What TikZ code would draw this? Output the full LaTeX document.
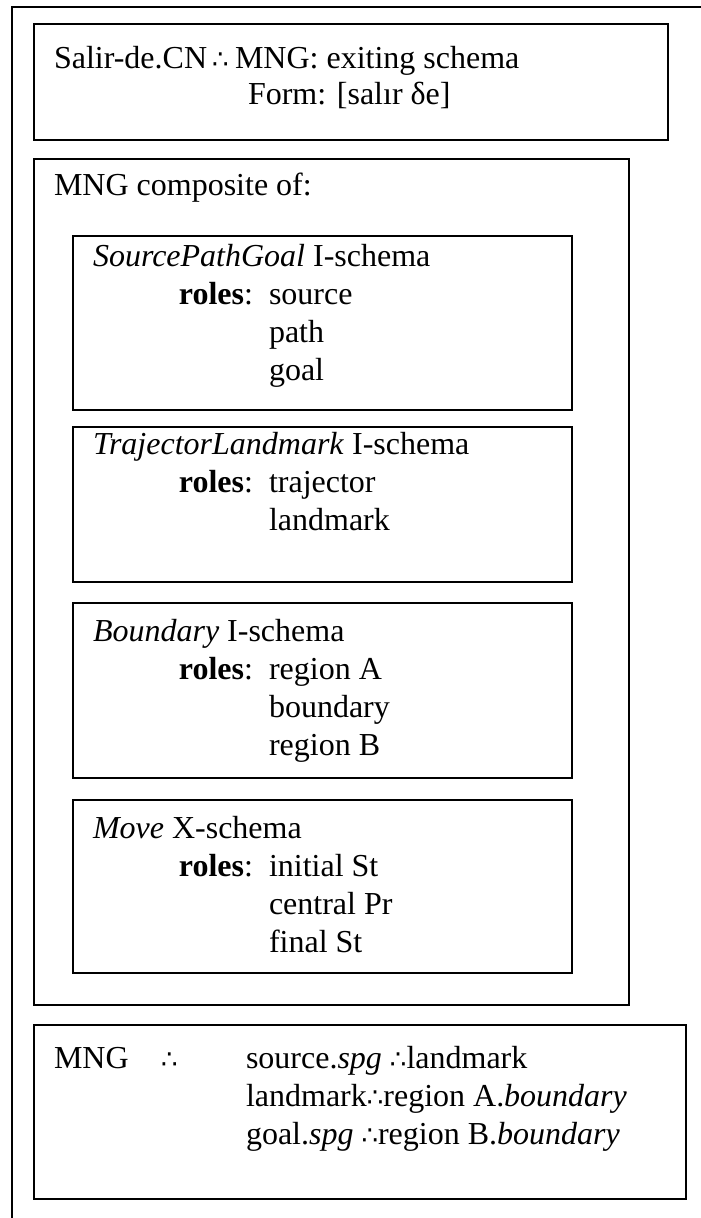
\documentclass[tikz,border=0pt]{standalone}
\usepackage{fontspec}
\setmainfont{Liberation Serif}
\newfontfamily\dotsfont{DejaVu Sans}
\newcommand{\tf}{{\dotsfont\fontsize{26}{38}\selectfont ∴}}
\begin{document}
\begin{tikzpicture}[x=1pt,y=-1pt,
  frame/.style={draw, line width=1.5pt, anchor=north west, inner sep=0pt, outer sep=0pt},
  txt/.style={anchor=base west, inner sep=0pt, outer sep=0pt,
    font=\fontsize{32}{38}\selectfont},
  rolelabel/.style={txt, anchor=base east}]
\useasboundingbox (0,0) rectangle (701,1218);

% open outer frame (top and left sides only)
\coordinate (ftr) at (705,7);
\coordinate (ftl) at (12,7);
\coordinate (fbl) at (12,1222);
\draw[line width=1.5pt] (ftr) -- (ftl) -- (fbl);

% construction header
\node[frame, minimum width=634pt, minimum height=116pt] (head) at (34,24) {};
\node[txt] (h1a) at (54,68) {Salir-de.CN};
\node[txt] (h1b) at (212,68) {\tf};
\node[txt] (h1c) at (235,68) {MNG: exiting schema};
\node[txt] (h2)  at (248,104) {Form: [salır δe]};

% meaning composite
\node[frame, minimum width=595pt, minimum height=846pt] (comp) at (34,159) {};
\node[txt] (comptitle) at (54,195) {MNG composite of:};

% SourcePathGoal
\node[frame, minimum width=499pt, minimum height=174pt] (spg) at (73,236) {};
\node[txt] (spg1) at (93,266) {\textit{SourcePathGoal} I-schema};
\node[rolelabel] (spg2) at (253,304) {\textbf{roles}:};
\node[txt] (spg3) at (269,304) {source};
\node[txt] (spg4) at (269,342) {path};
\node[txt] (spg5) at (269,380) {goal};

% TrajectorLandmark
\node[frame, minimum width=499pt, minimum height=155pt] (tl) at (73,427) {};
\node[txt] (tl1) at (93,454) {\textit{TrajectorLandmark} I-schema};
\node[rolelabel] (tl2) at (253,492) {\textbf{roles}:};
\node[txt] (tl3) at (269,492) {trajector};
\node[txt] (tl4) at (269,530) {landmark};

% Boundary
\node[frame, minimum width=499pt, minimum height=175pt] (bd) at (73,603) {};
\node[txt] (bd1) at (93,641) {\textit{Boundary} I-schema};
\node[rolelabel] (bd2) at (253,679) {\textbf{roles}:};
\node[txt] (bd3) at (269,679) {region A};
\node[txt] (bd4) at (269,717) {boundary};
\node[txt] (bd5) at (269,755) {region B};

% Move
\node[frame, minimum width=499pt, minimum height=173pt] (mv) at (73,800) {};
\node[txt] (mv1) at (93,838) {\textit{Move} X-schema};
\node[rolelabel] (mv2) at (253,876) {\textbf{roles}:};
\node[txt] (mv3) at (269,876) {initial St};
\node[txt] (mv4) at (269,914) {central Pr};
\node[txt] (mv5) at (269,952) {final St};

% bindings
\node[frame, minimum width=652pt, minimum height=174pt] (bind) at (34,1025) {};
\node[txt] (b0a) at (54,1068) {MNG};
\node[txt] (b0b) at (161,1068) {\tf};
\node[txt] (b1) at (246,1068) {source.\textit{spg} \tf landmark};
\node[txt] (b2) at (246,1106) {landmark\tf region A.\textit{boundary}};
\node[txt] (b3) at (246,1144) {goal.\textit{spg} \tf region B.\textit{boundary}};
\end{tikzpicture}
\end{document}
